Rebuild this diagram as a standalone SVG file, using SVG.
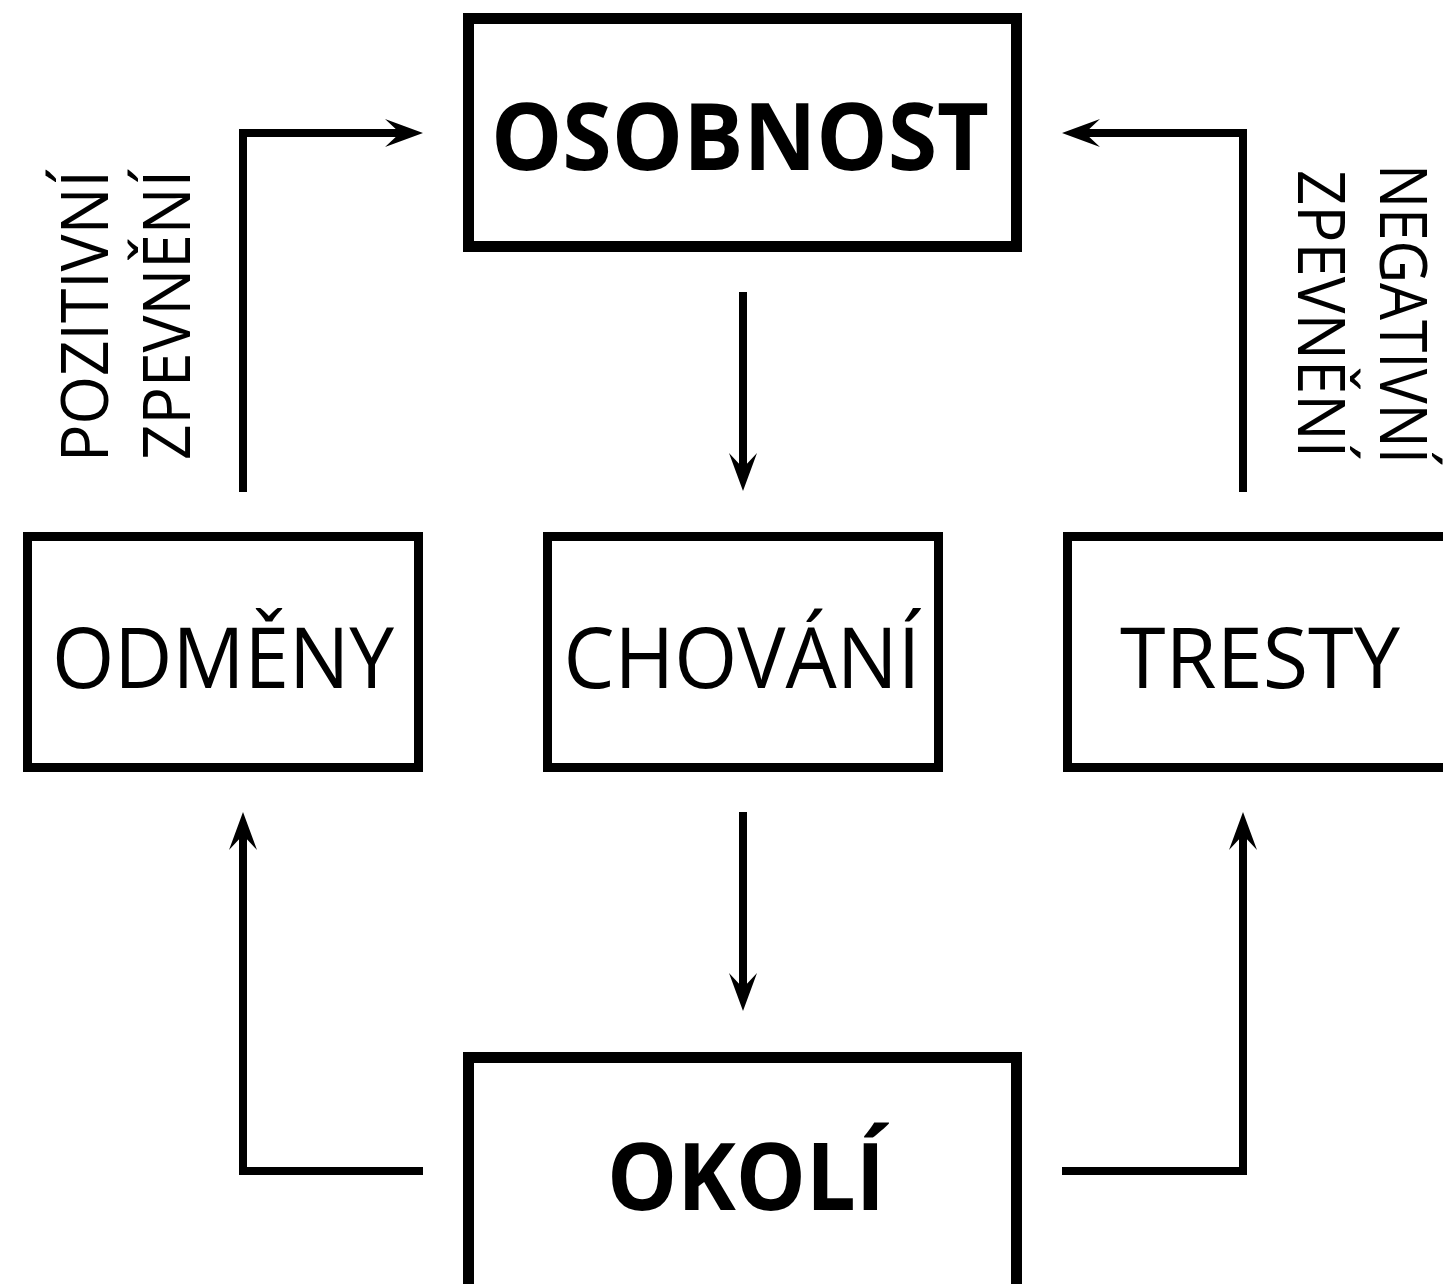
<svg xmlns="http://www.w3.org/2000/svg" width="1443" height="1284" viewBox="0 0 1443 1284">
<style>
.box{fill:none;stroke:#000;}
.bold{stroke-width:11;}
.thin{stroke-width:9;}
.conn{fill:none;stroke:#000;stroke-width:8;stroke-linejoin:miter;stroke-linecap:butt;marker-end:url(#ah);}
.t{font-family:"Open Sans","Liberation Sans",sans-serif;fill:#000;}
.big{font-size:94px;font-weight:bold;}
.mid{font-size:85px;}
.lab{font-size:66px;}
</style>
<defs>
<marker id="ah" markerUnits="userSpaceOnUse" viewBox="0 -15 40 30" markerWidth="40" markerHeight="30" refX="15" refY="0" orient="auto" overflow="visible">
<path d="M0,-14 L38,0 L0,14 L15,0 Z" fill="#000"/>
</marker>
</defs>
<rect width="1443" height="1284" fill="#fff"/>
<g id="connectors">
<path class="conn" d="M243,492 V133 H400"/>
<path class="conn" d="M1243,492 V133 H1085"/>
<path class="conn" d="M743,292 V468"/>
<path class="conn" d="M743,812 V988"/>
<path class="conn" d="M423,1171 H243 V835"/>
<path class="conn" d="M1062,1171 H1243 V835"/>
</g>
<g id="osobnost">
<rect class="box bold" x="468.5" y="18.5" width="548" height="228"/>
<text class="t big" x="740" y="170" text-anchor="middle" textLength="498" lengthAdjust="spacingAndGlyphs">OSOBNOST</text>
</g>
<g id="odmeny">
<rect class="box thin" x="27.5" y="536.5" width="391" height="231"/>
<text class="t mid" x="223" y="688" text-anchor="middle" textLength="342" lengthAdjust="spacingAndGlyphs">ODMĚNY</text>
</g>
<g id="chovani">
<rect class="box thin" x="547.5" y="536.5" width="391" height="231"/>
<text class="t mid" x="742" y="688" text-anchor="middle" textLength="357" lengthAdjust="spacingAndGlyphs">CHOVÁNÍ</text>
</g>
<g id="tresty">
<rect class="box thin" x="1067.5" y="536.5" width="391" height="231"/>
<text class="t mid" x="1260" y="688" text-anchor="middle" textLength="280" lengthAdjust="spacingAndGlyphs">TRESTY</text>
</g>
<g id="okoli">
<rect class="box bold" x="468.5" y="1057.5" width="548" height="240"/>
<text class="t big" x="746" y="1210" text-anchor="middle" textLength="278" lengthAdjust="spacingAndGlyphs">OKOLÍ</text>
</g>
<g id="label-pozitivni">
<text class="t lab" transform="translate(108,462) rotate(-90)" x="0" y="0" textLength="292" lengthAdjust="spacingAndGlyphs">POZITIVNÍ</text>
<text class="t lab" transform="translate(190,460) rotate(-90)" x="0" y="0" textLength="290" lengthAdjust="spacingAndGlyphs">ZPEVNĚNÍ</text>
</g>
<g id="label-negativni">
<text class="t lab" transform="translate(1380,164) rotate(90)" x="0" y="0" textLength="300" lengthAdjust="spacingAndGlyphs">NEGATIVNÍ</text>
<text class="t lab" transform="translate(1298,170) rotate(90)" x="0" y="0" textLength="288" lengthAdjust="spacingAndGlyphs">ZPEVNĚNÍ</text>
</g>
</svg>
